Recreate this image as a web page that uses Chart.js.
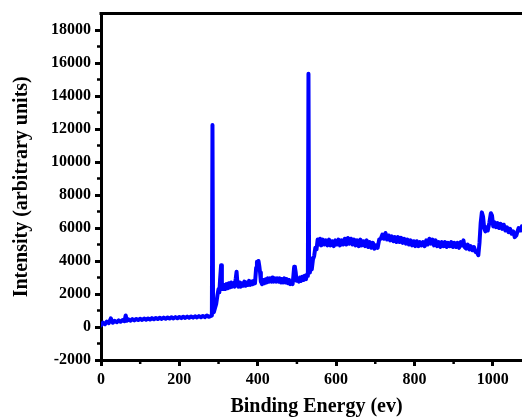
<!DOCTYPE html>
<html>
<head>
<meta charset="utf-8">
<script src="https://cdn.jsdelivr.net/npm/chart.js@4/dist/chart.umd.min.js"></script>
<style>
  html, body { margin: 0; padding: 0; background: #fff; overflow: hidden; }
  #wrap { width: 560px; height: 419px; }
</style>
</head>
<body>
<div id="wrap"><canvas id="c" width="560" height="419"></canvas></div>
<script>
// XPS survey spectrum: binding energy (eV) vs. intensity (arbitrary units)
const energy = [
  0, 5, 10, 15, 20, 25, 30, 35, 40, 45, 50, 55, 60, 63, 66, 70, 75, 80, 85, 90,
  95, 100, 105, 110, 115, 120, 125, 130, 135, 140, 145, 150, 155, 160, 165, 170, 175, 180, 185, 190,
  195, 200, 205, 210, 215, 220, 225, 230, 235, 240, 245, 250, 255, 260, 265, 270, 275, 280, 283,
  284.5, 286, 288, 291, 294, 297, 300, 302, 304, 306.5, 308.5, 311, 314, 317, 320, 323, 326, 329, 332,
  335, 338, 341, 344, 346, 348, 351, 354, 357, 360, 363, 366, 369, 372, 375, 378, 381, 384, 387, 390,
  393, 396, 398, 400, 402, 404, 406, 408, 411, 414, 417, 420, 423, 426, 429, 432, 435, 438, 441, 444,
  447, 450, 453, 456, 459, 462, 465, 468, 471, 474, 477, 480, 483, 486, 489, 491, 493, 495, 497, 499,
  502, 505, 508, 511, 514, 517, 520, 523, 526, 528, 529.5, 531, 533, 535, 538, 541, 544, 547, 550, 553,
  556, 559, 562, 566, 570, 574, 578, 582, 586, 590, 594, 598, 602, 606, 610, 614, 618, 622, 626, 630,
  634, 638, 642, 646, 650, 654, 658, 662, 666, 670, 674, 678, 682, 686, 690, 694, 698, 702, 706, 710,
  714, 718, 722, 726, 730, 734, 738, 742, 746, 750, 754, 758, 762, 766, 770, 774, 778, 782, 786, 790,
  794, 798, 802, 806, 810, 814, 818, 822, 826, 830, 834, 838, 842, 846, 850, 854, 858, 862, 866, 870,
  874, 878, 882, 886, 890, 894, 898, 902, 906, 910, 914, 918, 922, 925, 928, 932, 936, 940, 944, 948,
  952, 956, 960, 963, 966, 969, 972, 975, 978, 981, 984, 987, 991, 995, 998, 1001, 1004, 1008, 1012, 1016,
  1020, 1024, 1028, 1032, 1036, 1040, 1044, 1048, 1052, 1056, 1060, 1063, 1066, 1070, 1074, 1078
];
const intensity = [
  100, 260, 170, 330, 240, 520, 260, 380, 290, 400, 320, 420, 350, 700, 380, 470, 380, 480, 400, 490,
  420, 500, 430, 510, 440, 520, 450, 540, 470, 550, 480, 560, 490, 570, 500, 580, 510, 590, 520, 600,
  530, 610, 540, 620, 550, 630, 560, 640, 570, 650, 580, 660, 590, 670, 600, 700, 620, 660, 700,
  12250, 1200, 900, 1150, 1400, 1900, 2300, 2100, 2900, 3750, 2700, 2300, 2550, 2300, 2600, 2350, 2650, 2400, 2700,
  2450, 2650, 2450, 2950, 3350, 2700, 2450, 2700, 2450, 2650, 2500, 2750, 2500, 2700, 2550, 2800, 2550, 2750, 2600, 2800,
  2650, 3600, 3950, 3800, 4000, 3700, 3300, 2750, 2600, 2850, 2650, 2900, 2700, 2950, 2750, 2950, 2750, 3000, 2750, 2950,
  2750, 2950, 2750, 2950, 2700, 2900, 2700, 2950, 2700, 2900, 2650, 2850, 2600, 2700, 2600, 3100, 3650, 3600, 3300, 2800,
  2950, 2750, 3000, 2800, 3050, 2850, 3100, 2900, 3200, 3100, 15350, 4200, 3300, 3600, 3500, 4100, 4300, 4800, 4700, 5300,
  5000, 5350, 4950, 5300, 5000, 5250, 4950, 5300, 4950, 5200, 4900, 5250, 5000, 5300, 4950, 5250, 5000, 5350, 5000, 5400,
  5050, 5350, 5000, 5300, 4950, 5250, 4900, 5300, 4950, 5200, 4900, 5250, 4850, 5150, 4800, 5100, 4750, 4950, 4800, 5300,
  5350, 5600, 5350, 5700, 5300, 5550, 5250, 5500, 5200, 5450, 5150, 5450, 5150, 5400, 5100, 5350, 5050, 5300, 5000, 5250,
  4950, 5200, 4900, 5200, 4900, 5150, 4950, 5150, 4900, 5250, 5000, 5350, 5050, 5300, 4950, 5250, 4900, 5150, 4850, 5150,
  4900, 5150, 4850, 5100, 4900, 5150, 4850, 5100, 4850, 5100, 4800, 5150, 4950, 5250, 4850, 4750, 5000, 4700, 4900, 4650,
  4850, 4550, 4500, 4350, 5100, 6300, 6950, 6700, 6000, 5800, 6050, 5850, 6300, 6900, 6750, 6100, 6350, 6050, 6300, 6000,
  6250, 5950, 6200, 5850, 6050, 5750, 5950, 5650, 5800, 5450, 5550, 5800, 6000, 5850, 6100, 5800
];

// axis ranges and tick marks
const xMin = 0, xMax = 1100;
const yMin = -2000, yMax = 19000;
const xMajorTicks = [0, 200, 400, 600, 800, 1000];
const xMinorTicks = [100, 300, 500, 700, 900, 1100];
const yMajorTicks = [-2000, 0, 2000, 4000, 6000, 8000, 10000, 12000, 14000, 16000, 18000];
const yMinorTicks = [-1000, 1000, 3000, 5000, 7000, 9000, 11000, 13000, 15000, 17000];

const FONT = '"Liberation Serif", "Times New Roman", serif';

// frame line along the top and right, plus short minor tick marks
const framePlugin = {
  id: 'frame',
  afterDraw(chart) {
    const { ctx, chartArea: a, scales: { x, y } } = chart;
    ctx.save();
    ctx.strokeStyle = '#000';
    ctx.lineWidth = 3;
    ctx.beginPath();
    ctx.moveTo(a.left - 1.5, a.top);
    ctx.lineTo(a.right, a.top);
    ctx.lineTo(a.right, a.bottom);
    ctx.stroke();
    ctx.lineWidth = 2.5;
    ctx.beginPath();
    xMinorTicks.forEach(v => {
      const px = x.getPixelForValue(v);
      ctx.moveTo(px, a.bottom);
      ctx.lineTo(px, a.bottom + 4);
    });
    yMinorTicks.forEach(v => {
      const py = y.getPixelForValue(v);
      ctx.moveTo(a.left, py);
      ctx.lineTo(a.left - 4, py);
    });
    ctx.stroke();
    ctx.restore();
  }
};

new Chart(document.getElementById('c'), {
  type: 'line',
  data: {
    datasets: [{
      data: energy.map((e, i) => ({ x: e, y: intensity[i] })),
      borderColor: '#0000ff',
      borderWidth: 4,
      borderJoinStyle: 'round',
      borderCapStyle: 'round',
      pointRadius: 0,
      tension: 0,
      fill: false
    }]
  },
  options: {
    responsive: false,
    animation: false,
    layout: { padding: { top: 12, right: 28, left: 0, bottom: 0 } },
    plugins: { legend: { display: false }, tooltip: { enabled: false } },
    scales: {
      x: {
        type: 'linear',
        min: xMin,
        max: xMax,
        afterBuildTicks: s => { s.ticks = xMajorTicks.map(v => ({ value: v })); },
        afterFit: s => { s.height = 59; },
        grid: { drawOnChartArea: false, drawTicks: true, tickLength: 6, tickWidth: 3, tickColor: '#000' },
        border: { display: true, color: '#000', width: 3 },
        ticks: {
          color: '#000',
          padding: 4,
          maxRotation: 0,
          callback: v => String(v),
          font: { family: FONT, size: 16, weight: 'bold' }
        },
        title: {
          display: true,
          text: 'Binding Energy (ev)',
          color: '#000',
          padding: { top: 0, bottom: 0 },
          font: { family: FONT, size: 20, weight: 'bold' }
        }
      },
      y: {
        type: 'linear',
        min: yMin,
        max: yMax,
        afterBuildTicks: s => { s.ticks = yMajorTicks.map(v => ({ value: v })); },
        afterFit: s => { s.width = 101; },
        grid: { drawOnChartArea: false, drawTicks: true, tickLength: 6, tickWidth: 3, tickColor: '#000' },
        border: { display: true, color: '#000', width: 3 },
        ticks: {
          color: '#000',
          padding: 4,
          callback: v => String(v),
          font: { family: FONT, size: 16, weight: 'bold' }
        },
        title: {
          display: true,
          text: 'Intensity (arbitrary units)',
          color: '#000',
          padding: { top: 10, bottom: 0 },
          font: { family: FONT, size: 20, weight: 'bold' }
        }
      }
    }
  },
  plugins: [framePlugin]
});
</script>
</body>
</html>
